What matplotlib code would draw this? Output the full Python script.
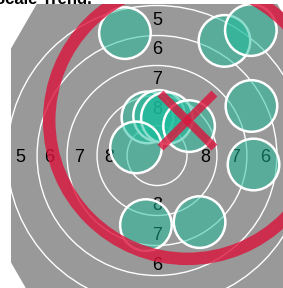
import numpy as np
import matplotlib
matplotlib.use("Agg")
import matplotlib.pyplot as plt
from matplotlib.patches import Circle, RegularPolygon

# target geometry, in ring widths
ring_radii = [1, 2, 3, 4, 5]
face_apothem = 6
ring_values = [8, 7, 6, 5]
label_dist = [1.6, 2.6, 3.6, 4.57]

# shot impacts (ring-width units, target centre = 0,0)
shot_x = [-1.07, 2.25, 3.13, 3.15, 3.22, -0.37, 1.42, -0.32, 0.07, 0.33, 1.07, -0.70]
shot_y = [4.08, 3.82, 4.18, 1.65, -0.30, -2.32, -2.22, 1.27, 1.32, 1.25, 0.98, 0.27]
shot_r = 0.86

title = "Scale Trend."

plt.rcParams['font.family'] = ['Liberation Sans', 'DejaVu Sans']

W, H = 283, 288
fig = plt.figure(figsize=(W / 100, H / 100), dpi=100)
# axes runs past the right/bottom edge of the figure (cropped view)
ax = fig.add_axes([11 / W, -19 / H, 292 / W, 303 / H])
ax.set_xlim(-4.87, 4.87)
ax.set_ylim(-5.05, 5.05)
ax.set_aspect('auto')
ax.axis('off')

# visible part of the data window (figure crops the axes)
x_vis = 4.87 - 2 * 4.87 * (292 - (W - 11)) / 292
y_vis = -5.05 + 2 * 5.05 * 19 / 303

# target face: hexagon, flat top/bottom
ax.add_patch(RegularPolygon((0, 0), 6, radius=face_apothem / np.cos(np.pi / 6),
                            orientation=np.pi / 6, facecolor='#999999',
                            edgecolor='none', zorder=0))
for r in ring_radii:
    ax.add_patch(Circle((0, 0), r, fill=False, edgecolor='white', lw=1.0, zorder=1))

for val, d in zip(ring_values, label_dist):
    for dx, dy in [(-1, 0), (1, 0), (0, 1), (0, -1)]:
        tx, ty = dx * d, dy * d
        if tx + 0.25 > x_vis or ty - 0.25 < y_vis:
            continue
        ax.text(tx, ty, str(val), ha='center', va='center_baseline',
                fontsize=13, color='black', zorder=2)

# shots
for x, y in zip(shot_x, shot_y):
    ax.add_patch(Circle((x, y), shot_r, facecolor=(0.10, 0.74, 0.61, 0.5),
                        edgecolor='white', lw=1.8, zorder=3))

# mean point of impact + group circle
sx = np.array(shot_x)
sy = np.array(shot_y)
mx, my = sx.mean(), sy.mean()
group_r = np.max(np.hypot(sx - mx, sy - my)) + shot_r
ax.add_patch(Circle((mx, my), group_r, fill=False, edgecolor='#dc143c',
                    lw=9, alpha=0.8, zorder=4))
arm = 0.9
ax.plot([mx - arm, mx + arm], [my + arm, my - arm], color='#dc143c', lw=6,
        alpha=0.8, solid_capstyle='butt', zorder=5)
ax.plot([mx - arm, mx + arm], [my - arm, my + arm], color='#dc143c', lw=6,
        alpha=0.8, solid_capstyle='butt', zorder=5)

# title sits mostly above the crop, only its lower part shows
fig.text(92 / W, 1 - 4 / H, title, ha='right', va='baseline',
         fontsize=12, fontweight='bold')

fig.savefig('out.png', dpi=100)
